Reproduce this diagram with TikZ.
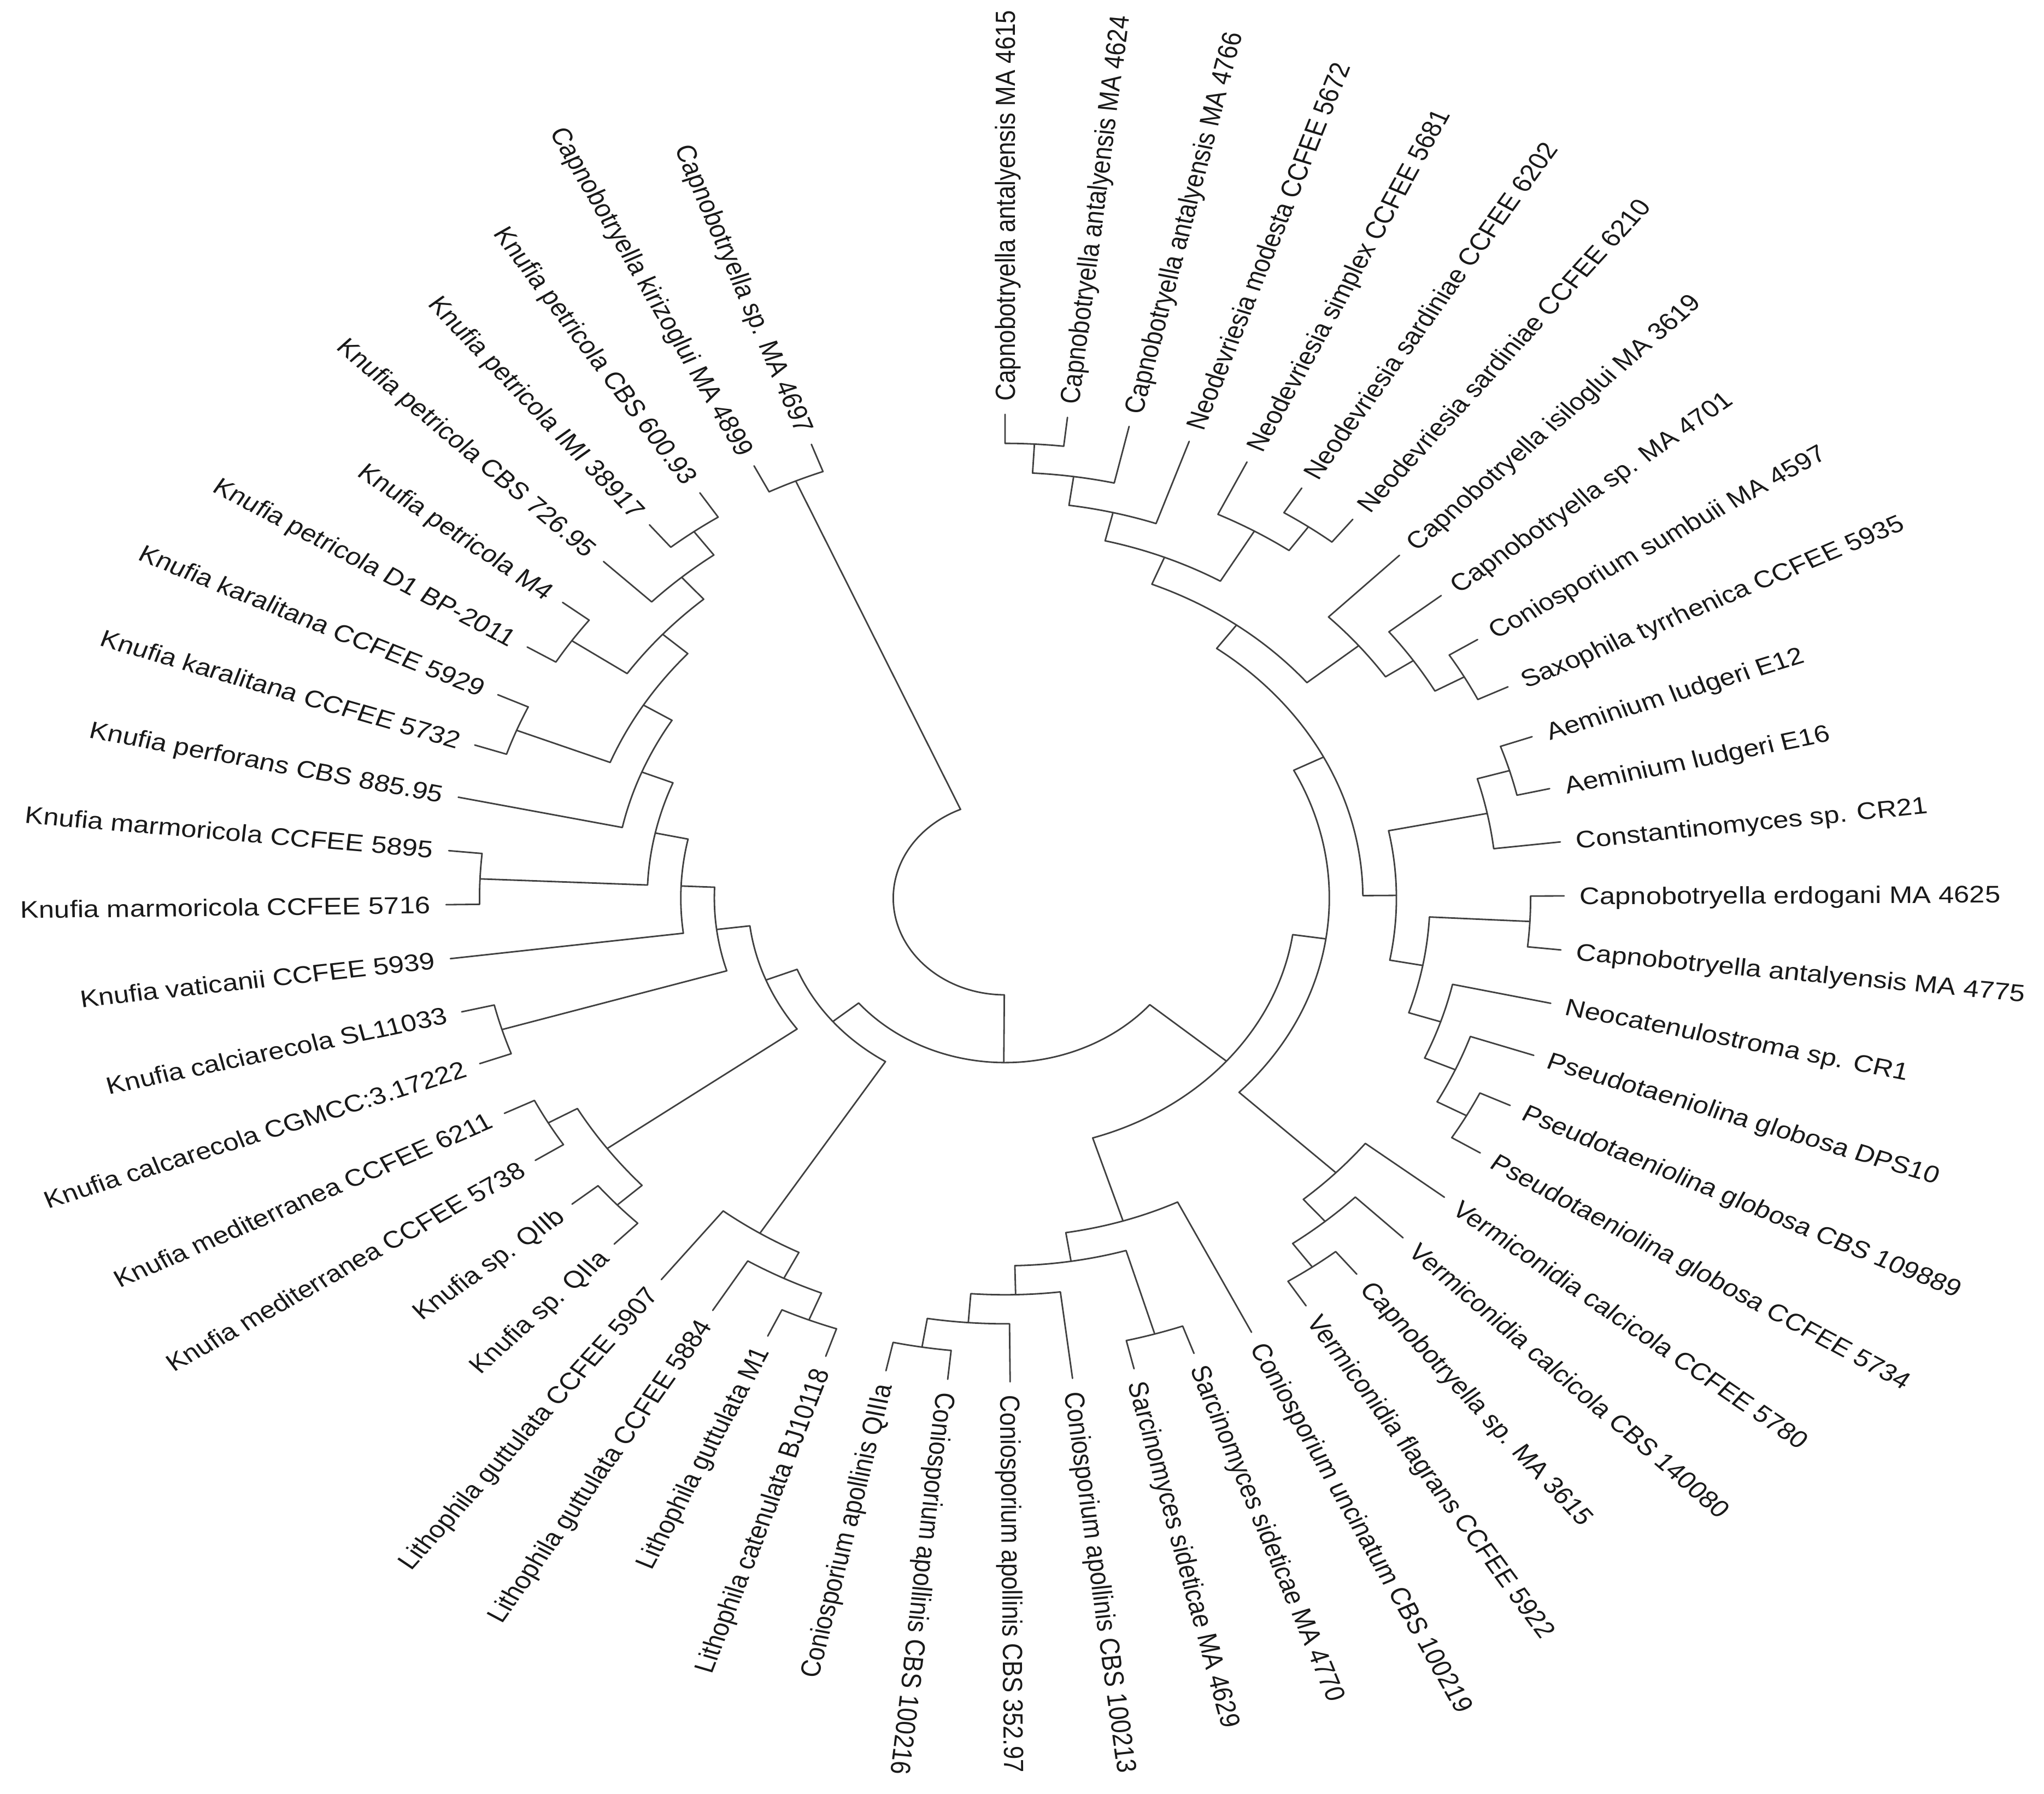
\documentclass[tikz,border=0pt]{standalone}
\usepackage{fontspec}
\newfontfamily\labfont{Liberation Sans}
\def\TR{9.5}
\def\TRl{9.76}
\tikzset{
  br/.style={line width=0.8pt, draw=black!75, line cap=round, line join=round},
  lbl/.style={font=\labfont\fontsize{13.4}{16}\selectfont, text=black!90, inner sep=0pt, text height=9.6pt, text depth=0pt, transform shape},
}
% node: radius, angle child 1, radius child 1, angle child 2, radius child 2
\newcommand{\nd}[5]{\draw[br] (#2:{#3*\TR}) -- (#2:{#1*\TR}) arc[start angle=#2, end angle=#4, radius={#1*\TR}] -- (#4:{#5*\TR});}
\newcommand{\lfr}[3]{\node[lbl, rotate=#2, anchor=west] (l#1) at (#2:{\TRl}) {#3};}
\newcommand{\lfl}[3]{\node[lbl, rotate={#2+180}, anchor=east] (l#1) at (#2:{\TRl}) {#3};}
\begin{document}
\begin{tikzpicture}
\fill[white] (0,0) rectangle (37.40,-32.81);
\path[use as bounding box] (0,0) rectangle (37.40,-32.81);
\begin{scope}[shift={(18.39,-16.43)}, xscale=1.07684, yscale=0.93158]
% ---------- branches ----------
\nd{0.94}{90}{1}{83.59}{1}
\nd{0.88}{86.795}{0.94}{77.18}{1}
\nd{0.82}{81.9875}{0.88}{70.77}{1}
\nd{0.94}{57.95}{1}{51.54}{1}
\nd{0.88}{64.36}{1}{54.745}{0.94}
\nd{0.76}{76.379}{0.82}{59.5525}{0.88}
\nd{0.94}{32.31}{1}{25.90}{1}
\nd{0.88}{38.72}{1}{29.105}{0.94}
\nd{0.82}{45.13}{1}{33.9125}{0.88}
\nd{0.70}{67.966}{0.76}{39.521}{0.82}
\nd{0.94}{19.49}{1}{13.08}{1}
\nd{0.88}{16.285}{0.94}{6.67}{1}
\nd{0.94}{0.26}{1}{-6.15}{1}
\nd{0.94}{-25.38}{1}{-31.79}{1}
\nd{0.88}{-18.97}{1}{-28.585}{0.94}
\nd{0.82}{-12.56}{1}{-23.7775}{0.88}
\nd{0.76}{-2.945}{0.94}{-18.169}{0.82}
\nd{0.70}{11.4775}{0.88}{-10.557}{0.76}
\nd{0.64}{53.744}{0.70}{0.460}{0.70}
\nd{0.94}{-51.02}{1}{-57.43}{1}
\nd{0.88}{-44.61}{1}{-54.225}{0.94}
\nd{0.82}{-38.20}{1}{-49.4175}{0.88}
\nd{0.58}{27.102}{0.64}{-43.809}{0.82}
\nd{0.94}{-95.89}{1}{-102.30}{1}
\nd{0.88}{-89.48}{1}{-99.095}{0.94}
\nd{0.82}{-83.07}{1}{-94.2875}{0.88}
\nd{0.94}{-70.25}{1}{-76.66}{1}
\nd{0.76}{-73.455}{0.94}{-88.679}{0.82}
\nd{0.70}{-63.84}{1}{-81.067}{0.76}
\nd{0.52}{-8.3535}{0.58}{-72.4535}{0.70}
\nd{0.94}{-108.71}{1}{-115.12}{1}
\nd{0.88}{-111.915}{0.94}{-121.53}{1}
\nd{0.82}{-116.7225}{0.88}{-127.94}{1}
\nd{0.94}{-134.35}{1}{-140.76}{1}
\nd{0.94}{-147.17}{1}{-153.58}{1}
\nd{0.88}{-137.555}{0.94}{-150.375}{0.94}
\nd{0.94}{-159.99}{1}{-166.40}{1}
\nd{0.94}{-179.22}{1}{-185.63}{1}
\nd{0.94}{-198.45}{1}{-204.86}{1}
\nd{0.94}{-211.27}{1}{-217.68}{1}
\nd{0.94}{-230.50}{1}{-236.91}{1}
\nd{0.88}{-224.09}{1}{-233.705}{0.94}
\nd{0.82}{-214.475}{0.94}{-228.8975}{0.88}
\nd{0.76}{-201.655}{0.94}{-221.686}{0.82}
\nd{0.70}{-192.04}{1}{-211.6705}{0.76}
\nd{0.64}{-182.425}{0.94}{-201.855}{0.70}
\nd{0.58}{-172.81}{1}{-192.14}{0.64}
\nd{0.52}{-163.195}{0.94}{-182.475}{0.58}
\nd{0.46}{-143.965}{0.88}{-172.835}{0.52}
\nd{0.40}{-122.331}{0.82}{-158.4}{0.46}
\nd{0.34}{-40.4035}{0.52}{-140.3655}{0.40}
\nd{0.94}{-243.32}{1}{-249.73}{1}
\nd{0.20}{-90.3845}{0.34}{-246.525}{0.94}
% ---------- labels ----------
\lfr{1}{90}{Capnobotryella antalyensis MA 4615}
\lfr{2}{83.59}{Capnobotryella antalyensis MA 4624}
\lfr{3}{77.18}{Capnobotryella antalyensis MA 4766}
\lfr{4}{70.77}{Neodevriesia modesta CCFEE 5672}
\lfr{5}{64.36}{Neodevriesia simplex CCFEE 5681}
\lfr{6}{57.95}{Neodevriesia sardiniae CCFEE 6202}
\lfr{7}{51.54}{Neodevriesia sardiniae CCFEE 6210}
\lfr{8}{45.13}{Capnobotryella isiloglui MA 3619}
\lfr{9}{38.72}{Capnobotryella sp. MA 4701}
\lfr{10}{32.31}{Coniosporium sumbuii MA 4597}
\lfr{11}{25.90}{Saxophila tyrrhenica CCFEE 5935}
\lfr{12}{19.49}{Aeminium ludgeri E12}
\lfr{13}{13.08}{Aeminium ludgeri E16}
\lfr{14}{6.67}{Constantinomyces sp. CR21}
\lfr{15}{0.26}{Capnobotryella erdogani MA 4625}
\lfr{16}{-6.15}{Capnobotryella antalyensis MA 4775}
\lfr{17}{-12.56}{Neocatenulostroma sp. CR1}
\lfr{18}{-18.97}{Pseudotaeniolina globosa DPS10}
\lfr{19}{-25.38}{Pseudotaeniolina globosa CBS 109889}
\lfr{20}{-31.79}{Pseudotaeniolina globosa CCFEE 5734}
\lfr{21}{-38.20}{Vermiconidia calcicola CCFEE 5780}
\lfr{22}{-44.61}{Vermiconidia calcicola CBS 140080}
\lfr{23}{-51.02}{Capnobotryella sp. MA 3615}
\lfr{24}{-57.43}{Vermiconidia flagrans CCFEE 5922}
\lfr{25}{-63.84}{Coniosporium uncinatum CBS 100219}
\lfr{26}{-70.25}{Sarcinomyces sideticae MA 4770}
\lfr{27}{-76.66}{Sarcinomyces sideticae MA 4629}
\lfr{28}{-83.07}{Coniosporium apollinis CBS 100213}
\lfr{29}{-89.48}{Coniosporium apollinis CBS 352.97}
\lfr{30}{-95.89}{Coniosporium apollinis CBS 100216}
\lfl{31}{-102.30}{Coniosporium apollinis QIIIa}
\lfl{32}{-108.71}{Lithophila catenulata BJ10118}
\lfl{33}{-115.12}{Lithophila guttulata M1}
\lfl{34}{-121.53}{Lithophila guttulata CCFEE 5884}
\lfl{35}{-127.94}{Lithophila guttulata CCFEE 5907}
\lfl{36}{-134.35}{Knufia sp. QIIa}
\lfl{37}{-140.76}{Knufia sp. QIIb}
\lfl{38}{-147.17}{Knufia mediterranea CCFEE 5738}
\lfl{39}{-153.58}{Knufia mediterranea CCFEE 6211}
\lfl{40}{-159.99}{Knufia calcarecola CGMCC:3.17222}
\lfl{41}{-166.40}{Knufia calciarecola SL11033}
\lfl{42}{-172.81}{Knufia vaticanii CCFEE 5939}
\lfl{43}{-179.22}{Knufia marmoricola CCFEE 5716}
\lfl{44}{-185.63}{Knufia marmoricola CCFEE 5895}
\lfl{45}{-192.04}{Knufia perforans CBS 885.95}
\lfl{46}{-198.45}{Knufia karalitana CCFEE 5732}
\lfl{47}{-204.86}{Knufia karalitana CCFEE 5929}
\lfl{48}{-211.27}{Knufia petricola D1 BP-2011}
\lfl{49}{-217.68}{Knufia petricola M4}
\lfl{50}{-224.09}{Knufia petricola CBS 726.95}
\lfl{51}{-230.50}{Knufia petricola IMI 38917}
\lfl{52}{-236.91}{Knufia petricola CBS 600.93}
\lfl{53}{-243.32}{Capnobotryella kirizoglui MA 4899}
\lfl{54}{-249.73}{Capnobotryella sp. MA 4697}
\end{scope}
\end{tikzpicture}
\end{document}
